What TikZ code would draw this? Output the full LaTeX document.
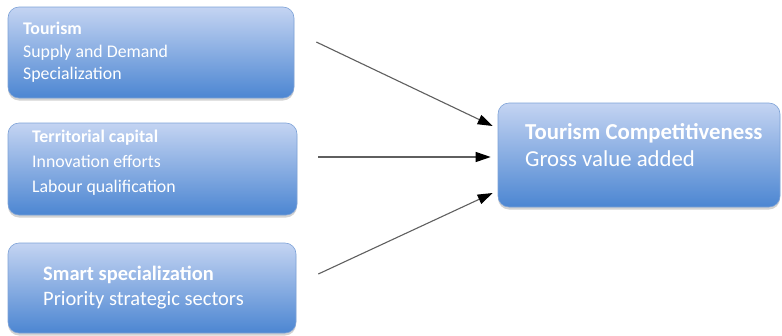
\documentclass[tikz,border=0pt]{standalone}
\usepackage{fontspec}
\setmainfont{Carlito}
\usetikzlibrary{arrows.meta,shadows}
\definecolor{boxtop}{RGB}{196,212,242}
\definecolor{boxmid}{RGB}{160,190,236}
\definecolor{boxbot}{RGB}{76,134,210}
\definecolor{boxline}{RGB}{125,162,215}
\definecolor{arrcol}{RGB}{95,95,95}
\begin{document}
\begin{tikzpicture}[x=1pt,y=-1pt,
  box/.style={draw=boxline, line width=0.6pt, rounded corners=11pt, top color=boxtop, middle color=boxmid, bottom color=boxbot,
    drop shadow={opacity=0.35, shadow xshift=0pt, shadow yshift=-2.5pt}},
  txt/.style={anchor=west, text=white, align=left, inner sep=0pt},
  arr/.style={draw=arrcol, line width=1.1pt, -{Triangle[length=15pt,width=10pt,color=black,fill=black]}}]
\useasboundingbox (0,0) rectangle (782,335);
\node[box, minimum width=286pt, minimum height=91pt] (b1) at (151,52.5) {};
\node[box, minimum width=289pt, minimum height=92pt] (b2) at (152.5,169) {};
\node[box, minimum width=288pt, minimum height=90pt] (b3) at (152,288) {};
\node[box, minimum width=282pt, minimum height=104pt] (b4) at (639,155) {};
\node[txt, font=\fontsize{17.8}{22.5}\selectfont] (t1) at (23,52.5) {\textbf{Tourism}\\Supply and Demand\\Specialization};
\node[txt, font=\fontsize{17.8}{25}\selectfont] (t2) at (32,163) {\textbf{Territorial capital}\\Innovation efforts\\Labour qualification};
\node[txt, font=\fontsize{20.5}{25.5}\selectfont] (t3) at (43,287.5) {\textbf{Smart specialization}\\Priority strategic sectors};
\node[txt, font=\fontsize{22.8}{26.5}\selectfont] (t4) at (525,145) {\textbf{Tourism Competitiveness}\\Gross value added};
\draw[arr] ([shift={(22,-10.5)}]b1.east) -- ([shift={(-5,-29)}]b4.west);
\draw[arr] ([shift={(21,-12)}]b2.east) -- ([shift={(-7,2)}]b4.west);
\draw[arr] ([shift={(22,-14)}]b3.east) -- ([shift={(-5,38)}]b4.west);
\end{tikzpicture}
\end{document}
